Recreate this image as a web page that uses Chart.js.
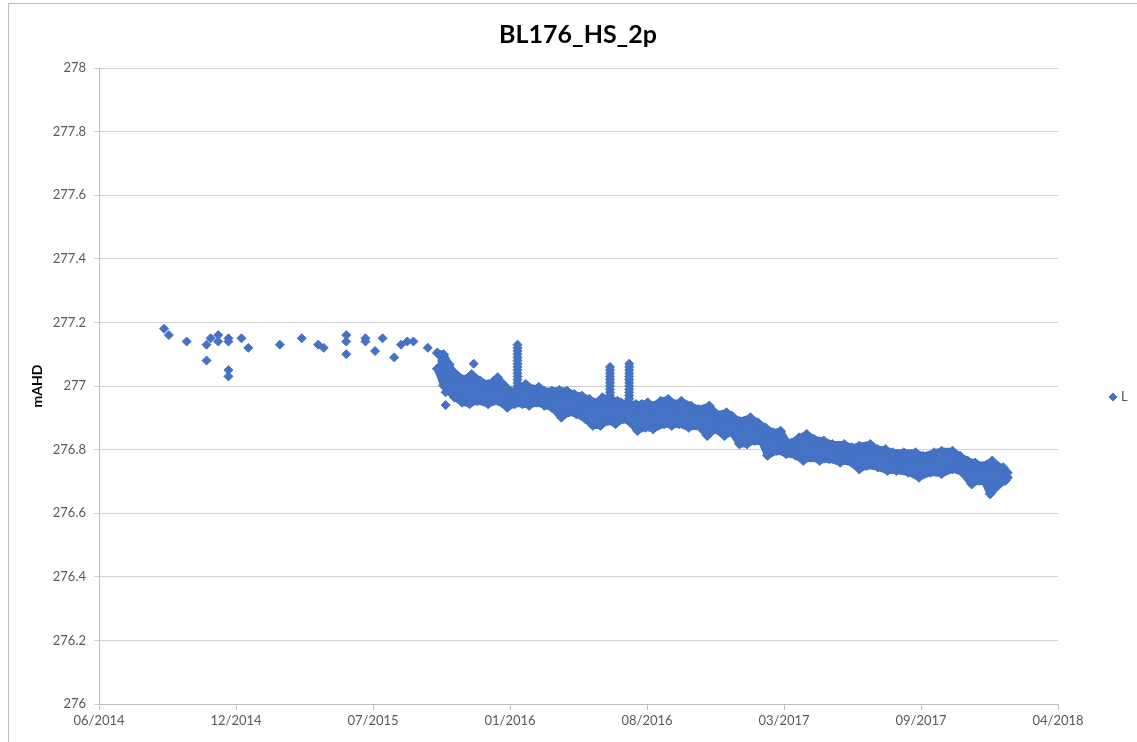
<!DOCTYPE html>
<html>
<head>
<meta charset="utf-8">
<title>BL176_HS_2p</title>
<script src="https://cdn.jsdelivr.net/npm/chart.js@4.4.1/dist/chart.umd.min.js"></script>
<style>
  html, body { margin: 0; padding: 0; background: #fff; }
  canvas { display: block; }
</style>
</head>
<body>
<canvas id="chart" width="1137" height="742"></canvas>
<script>
// Manual dip readings before the logger was installed
const manualDates = ['2014-09-10','2014-09-17','2014-10-13','2014-11-11','2014-11-11','2014-11-17','2014-11-28','2014-11-28',
  '2014-12-13','2014-12-13','2014-12-13','2014-12-13','2015-01-01','2015-01-11','2015-02-26','2015-03-30','2015-04-23',
  '2015-05-01','2015-06-03','2015-06-03','2015-06-03','2015-07-01','2015-07-01','2015-07-15','2015-07-26','2015-08-12',
  '2015-08-22','2015-08-31','2015-09-09','2015-09-30'];
const manualLevels = [277.18,277.16,277.14,277.13,277.08,277.15,277.16,277.14,
  277.15,277.14,277.05,277.03,277.15,277.12,277.13,277.15,277.13,
  277.12,277.16,277.14,277.10,277.15,277.14,277.11,277.15,277.09,
  277.13,277.14,277.14,277.12];

// Logger readings standing apart from the daily range (recharge events and odd lows)
const eventDates = ['2015-10-26','2015-10-26','2015-12-06',
  '2016-02-08','2016-02-08','2016-02-08','2016-02-08','2016-02-08','2016-02-08','2016-02-08',
  '2016-02-08','2016-02-08','2016-02-08','2016-02-08','2016-02-08','2016-02-08','2016-02-08',
  '2016-06-22','2016-06-22','2016-06-22','2016-06-22','2016-06-22','2016-06-22','2016-06-22',
  '2016-06-22','2016-06-22','2016-06-22','2016-06-22',
  '2016-07-20','2016-07-20','2016-07-20','2016-07-20','2016-07-20','2016-07-20','2016-07-20',
  '2016-07-20','2016-07-20','2016-07-20','2016-07-20','2016-07-20'];
const eventLevels = [276.98,276.94,277.07,
  277.13,277.12,277.11,277.10,277.09,277.08,277.07,
  277.06,277.05,277.04,277.03,277.02,277.01,277.00,
  277.06,277.05,277.04,277.03,277.02,277.01,277.00,
  276.99,276.98,276.97,276.96,
  277.07,277.06,277.05,277.04,277.03,277.02,277.01,
  277.00,276.99,276.98,276.97,276.96];

// Logger record: highest readings through time
const highDates = ['2015-10-14','2015-10-23','2015-10-31','2015-11-05','2015-11-13','2015-11-24','2015-12-03','2015-12-16','2015-12-27',
  '2016-01-04','2016-01-10','2016-01-18','2016-01-29','2016-02-05','2016-02-20','2016-03-02','2016-03-10','2016-03-18','2016-03-29',
  '2016-04-09','2016-04-20','2016-05-01','2016-05-12','2016-05-23','2016-06-03','2016-06-11','2016-07-03','2016-07-08','2016-07-30',
  '2016-08-07','2016-08-16','2016-08-24','2016-09-04','2016-09-15','2016-09-26','2016-10-04','2016-10-18','2016-10-29','2016-11-14',
  '2016-11-25','2016-12-09','2016-12-17','2016-12-28',
  '2017-01-13','2017-01-24','2017-02-04','2017-02-15','2017-02-26','2017-03-06','2017-03-14','2017-03-25','2017-04-05','2017-04-16',
  '2017-04-30','2017-05-13','2017-05-30','2017-06-10','2017-06-21','2017-07-07','2017-07-18','2017-07-29','2017-08-09','2017-08-25',
  '2017-09-11','2017-09-22','2017-10-08','2017-10-19','2017-11-04','2017-11-15','2017-11-26','2017-12-07','2017-12-18',
  '2018-01-01','2018-01-09','2018-01-17','2018-01-23'];
const highLevels = [277.104,277.099,277.068,277.047,277.031,277.020,277.036,277.015,277.005,
  277.015,277.026,277.005,276.984,276.984,277.005,276.989,276.996,276.984,276.984,
  276.986,276.984,276.973,276.968,276.958,276.947,276.963,276.952,276.947,276.942,
  276.942,276.947,276.937,276.952,276.958,276.942,276.952,276.937,276.926,276.937,
  276.910,276.916,276.905,276.889,
  276.900,276.884,276.868,276.853,276.858,276.827,276.821,276.837,276.848,276.832,
  276.827,276.816,276.816,276.806,276.811,276.816,276.800,276.800,276.790,276.790,
  276.790,276.779,276.790,276.795,276.795,276.779,276.764,276.758,276.748,
  276.764,276.748,276.743,276.727];

// Logger record: lowest readings through time
const lowDates = ['2015-10-14','2015-10-23','2015-11-08','2015-11-19','2015-11-30','2015-12-11','2015-12-27',
  '2016-01-10','2016-01-24','2016-02-04','2016-02-15','2016-02-25','2016-03-07','2016-03-18','2016-03-29','2016-04-12',
  '2016-04-23','2016-05-04','2016-05-17','2016-05-28','2016-06-08','2016-06-19','2016-06-30','2016-07-11','2016-07-22',
  '2016-08-01','2016-08-13','2016-08-24','2016-09-09','2016-09-20','2016-10-01','2016-10-15','2016-10-29','2016-11-11',
  '2016-11-22','2016-12-06','2016-12-17','2016-12-28',
  '2017-01-08','2017-01-19','2017-01-30','2017-02-07','2017-02-21','2017-03-06','2017-03-20','2017-03-31','2017-04-11',
  '2017-04-24','2017-05-08','2017-05-24','2017-06-04','2017-06-21','2017-07-02','2017-07-18','2017-08-01','2017-08-14',
  '2017-08-31','2017-09-16','2017-10-03','2017-10-19','2017-11-04','2017-11-18','2017-12-02','2017-12-13','2017-12-21',
  '2017-12-29','2018-01-09','2018-01-20','2018-01-23'];
const lowLevels = [277.054,277.002,276.965,276.949,276.944,276.954,276.944,
  276.954,276.933,276.944,276.944,276.939,276.949,276.939,276.933,276.902,
  276.918,276.912,276.897,276.876,276.876,276.891,276.881,276.897,276.886,
  276.860,276.870,276.865,276.881,276.876,276.881,276.870,276.876,276.844,
  276.865,276.844,276.855,276.818,
  276.818,276.829,276.823,276.782,276.797,276.787,276.782,276.766,276.776,
  276.766,276.771,276.760,276.766,276.739,276.750,276.745,276.734,276.734,
  276.729,276.713,276.729,276.724,276.739,276.729,276.692,276.703,276.698,
  276.661,276.687,276.703,276.712];

// Axis ticks
const xTickDates = ['2014-06-07','2014-12-24','2015-07-12','2016-01-28','2016-08-15','2017-03-03','2017-09-19','2018-04-07'];
const xTickLabels = ['06/2014','12/2014','07/2015','01/2016','08/2016','03/2017','09/2017','04/2018'];
const yTickLabels = ['276','276.2','276.4','276.6','276.8','277','277.2','277.4','277.6','277.8','278'];

const BLUE = '#4472C4';
const FONT = 'Lato, "Open Sans", "Liberation Sans", sans-serif';

const toTime = d => Date.parse(d + 'T00:00:00Z');
const toPoints = (dates, levels) => dates.map((d, i) => ({ x: toTime(d), y: levels[i] }));

const marker = {
  pointStyle: 'rectRot',
  pointRadius: 4.5,
  pointHoverRadius: 4.5,
  pointBorderWidth: 1,
  pointBackgroundColor: BLUE,
  pointBorderColor: BLUE
};

// Outer frame of the chart
const framePlugin = {
  id: 'frame',
  beforeDraw(chart) {
    const ctx = chart.ctx;
    ctx.save();
    ctx.fillStyle = '#fff';
    ctx.fillRect(0, 0, chart.width, chart.height);
    ctx.strokeStyle = '#bfbfbf';
    ctx.lineWidth = 1;
    ctx.strokeRect(8.5, 3.5, chart.width + 10, chart.height + 10);
    ctx.restore();
  }
};

// Single legend entry to the right of the plot
const legendPlugin = {
  id: 'sideLegend',
  afterDraw(chart) {
    const ds = chart.data.datasets[0];
    const area = chart.chartArea;
    const ctx = chart.ctx;
    const x = area.right + 55;
    const y = (area.top + area.bottom) / 2 + 11;
    ctx.save();
    ctx.fillStyle = BLUE;
    ctx.strokeStyle = BLUE;
    ctx.lineWidth = 1;
    Chart.helpers.drawPoint(ctx, { pointStyle: 'rectRot', radius: 4, borderWidth: 1 }, x, y);
    ctx.fillStyle = '#595959';
    ctx.font = '13px ' + FONT;
    ctx.textBaseline = 'middle';
    ctx.textAlign = 'left';
    ctx.fillText(ds.label, x + 8, y);
    ctx.restore();
  }
};

// The daily range of logger readings is drawn as a filled band between its high and low envelopes
const envelope = {
  borderWidth: 7,
  borderJoinStyle: 'round',
  borderCapStyle: 'round',
  borderColor: BLUE,
  backgroundColor: BLUE,
  tension: 0,
  yAxisID: 'y',
  pointStyle: 'rectRot',
  pointRadius: 5,
  pointHoverRadius: 5,
  pointBorderWidth: 1,
  pointBackgroundColor: BLUE,
  pointBorderColor: BLUE
};

new Chart(document.getElementById('chart'), {
  type: 'line',
  data: {
    datasets: [
      Object.assign({
        label: 'L',
        data: toPoints(manualDates.concat(eventDates), manualLevels.concat(eventLevels)),
        showLine: false,
        backgroundColor: BLUE,
        borderColor: BLUE,
        yAxisID: 'y',
        order: 0
      }, marker),
      Object.assign({
        label: 'L range high',
        data: toPoints(highDates, highLevels),
        fill: '+1',
        order: 1
      }, envelope),
      Object.assign({
        label: 'L range low',
        data: toPoints(lowDates, lowLevels),
        fill: false,
        order: 2
      }, envelope)
    ]
  },
  options: {
    responsive: false,
    animation: false,
    devicePixelRatio: 1,
    layout: { padding: { left: 19, right: 0, top: 0, bottom: 0 } },
    plugins: {
      legend: { display: false },
      tooltip: { enabled: false },
      title: {
        display: true,
        text: 'BL176_HS_2p',
        color: '#000',
        font: { family: FONT, size: 25, weight: 'bold' },
        padding: { top: 20, bottom: 18 }
      }
    },
    scales: {
      x: {
        type: 'linear',
        min: toTime(xTickDates[0]),
        max: toTime(xTickDates[xTickDates.length - 1]),
        afterBuildTicks(scale) {
          scale.ticks = xTickDates.map(d => ({ value: toTime(d) }));
        },
        afterFit(scale) { scale.height = 38; },
        ticks: {
          autoSkip: false,
          maxRotation: 0,
          padding: 3,
          color: '#595959',
          font: { family: FONT, size: 13 },
          callback: (v, i) => xTickLabels[i]
        },
        grid: { drawOnChartArea: false, tickLength: 6, color: '#bfbfbf' },
        border: { color: '#bfbfbf' }
      },
      y: {
        min: 276,
        max: 278,
        afterBuildTicks(scale) {
          scale.ticks = yTickLabels.map(t => ({ value: parseFloat(t) }));
        },
        afterFit(scale) { scale.width = 80; },
        ticks: {
          padding: 8,
          color: '#595959',
          font: { family: FONT, size: 13 },
          callback: (v, i) => yTickLabels[i]
        },
        grid: { color: '#d0d0d0', tickLength: 5 },
        border: { color: '#bfbfbf' },
        title: {
          display: true,
          text: 'mAHD',
          color: '#000',
          font: { family: FONT, size: 14, weight: 'bold' },
          padding: { top: 10, bottom: 0 }
        }
      },
      // empty strip on the right that holds the legend entry
      legendSpace: {
        position: 'right',
        display: true,
        grid: { display: false },
        border: { display: false },
        ticks: { display: false },
        afterFit(scale) { scale.width = 79; }
      }
    }
  },
  plugins: [framePlugin, legendPlugin]
});
</script>
</body>
</html>
